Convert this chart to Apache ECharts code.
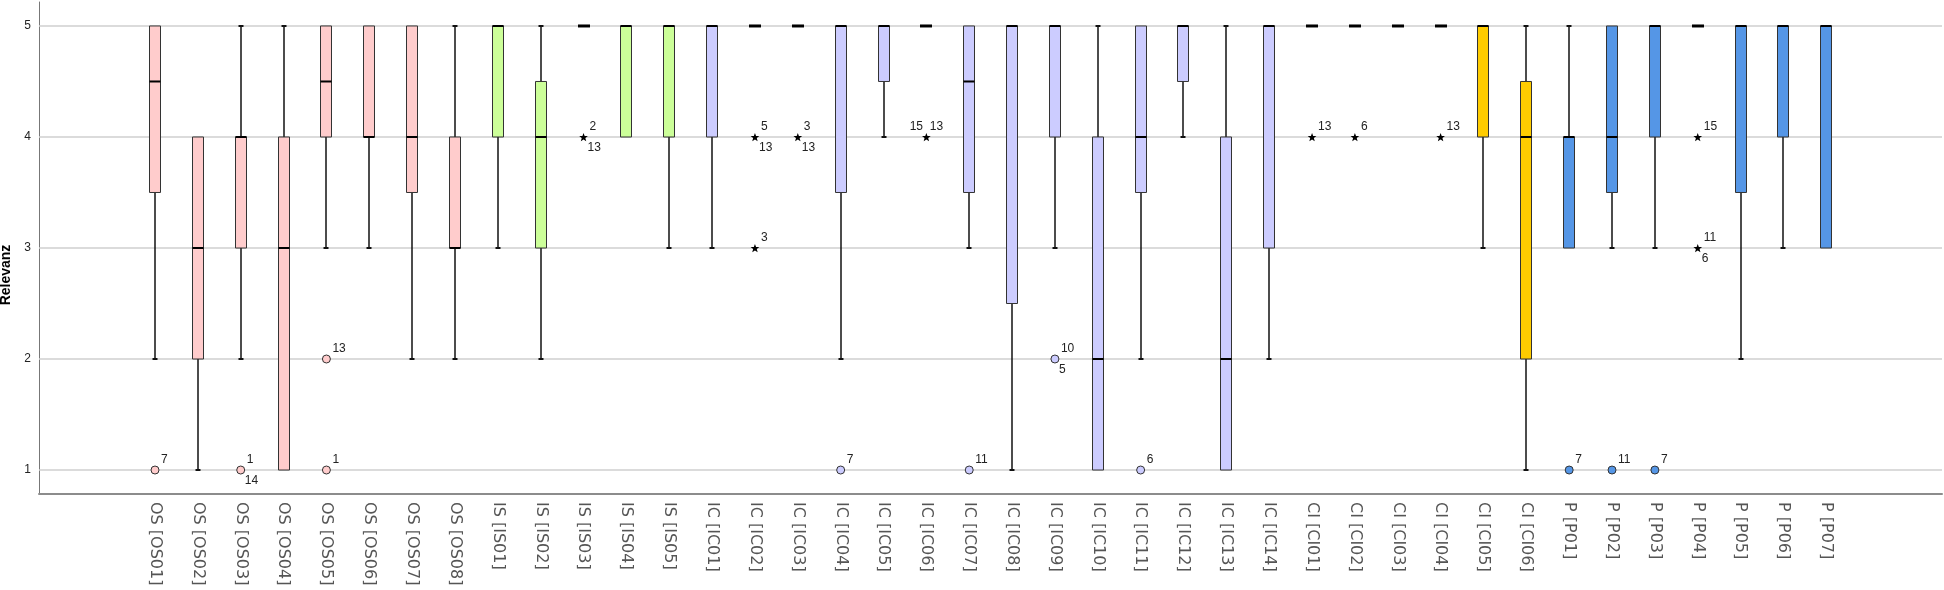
<!DOCTYPE html>
<html><head><meta charset="utf-8">
<script src="https://cdn.jsdelivr.net/npm/echarts@6/dist/echarts.min.js"></script>
<style>html,body{margin:0;padding:0;background:#fff}#c{width:1944px;height:590px}</style>
</head><body><div id="c"></div>
<script>
const categories = ['OS [OS01]','OS [OS02]','OS [OS03]','OS [OS04]','OS [OS05]','OS [OS06]','OS [OS07]','OS [OS08]',
  'IS [IS01]','IS [IS02]','IS [IS03]','IS [IS04]','IS [IS05]',
  'IC [IC01]','IC [IC02]','IC [IC03]','IC [IC04]','IC [IC05]','IC [IC06]','IC [IC07]','IC [IC08]','IC [IC09]','IC [IC10]','IC [IC11]','IC [IC12]','IC [IC13]','IC [IC14]',
  'CI [CI01]','CI [CI02]','CI [CI03]','CI [CI04]','CI [CI05]','CI [CI06]',
  'P [P01]','P [P02]','P [P03]','P [P04]','P [P05]','P [P06]','P [P07]'];
const whiskerLow  = [2,1,2,1,3,3,2,2, 3,2,5,4,3, 3,5,5,2,4,5,3,1,3,1,2,4,1,2, 5,5,5,5,3,1, 3,3,3,5,2,3,3];
const q1          = [3.5,2,3,1,4,4,3.5,3, 4,3,5,4,4, 4,5,5,3.5,4.5,5,3.5,2.5,4,1,3.5,4.5,1,3, 5,5,5,5,4,2, 3,3.5,4,5,3.5,4,3];
const median      = [4.5,3,4,3,4.5,4,4,3, 5,4,5,5,5, 5,5,5,5,5,5,4.5,5,5,2,4,5,2,5, 5,5,5,5,5,4, 4,4,5,5,5,5,5];
const q3          = [5,4,4,4,5,5,5,4, 5,4.5,5,5,5, 5,5,5,5,5,5,5,5,5,4,5,5,4,5, 5,5,5,5,5,4.5, 4,5,5,5,5,5,5];
const whiskerHigh = [5,4,5,5,5,5,5,5, 5,5,5,5,5, 5,5,5,5,5,5,5,5,5,5,5,5,5,5, 5,5,5,5,5,5, 5,5,5,5,5,5,5];

const outlierCat   = ['OS [OS01]','OS [OS03]','OS [OS05]','OS [OS05]','IS [IS03]','IC [IC02]','IC [IC02]','IC [IC03]','IC [IC04]','IC [IC06]','IC [IC07]','IC [IC09]','IC [IC11]','CI [CI01]','CI [CI02]','CI [CI04]','P [P01]','P [P02]','P [P03]','P [P04]','P [P04]'];
const outlierValue = [1,1,2,1,4,4,3,4,1,4,1,2,1,4,4,4,1,1,1,4,3];
const outlierKind  = ['o','o','o','o','*','*','*','*','o','*','o','o','o','*','*','*','o','o','o','*','*'];
const outlierUpper = ['7','1','13','1','2','5','3','3','7','15  13','11','10','6','13','6','13','7','11','7','15','11'];
const outlierLower = ['','14','','','13','13','','13','','','','5','','','','','','','','','6'];

const groupColors = {OS:'#FFCCCC', IS:'#CCFF99', IC:'#CCCCFF', CI:'#FFCC00', P:'#5596E6'};
function colorOf(i){ return groupColors[categories[i].split(' ')[0]]; }

const FONT = 'Liberation Sans, Arial, sans-serif';
const boxData = categories.map((c,i)=>[i, whiskerLow[i], q1[i], median[i], q3[i], whiskerHigh[i]]);
const outData = outlierCat.map((c,k)=>[categories.indexOf(c), outlierValue[k], k]);

function renderBox(params, api){
  const i = api.value(0);
  const x = Math.round(api.coord([i, 0])[0]);
  const y = v => api.coord([i, v])[1];
  const lo = api.value(1), a = api.value(2), m = api.value(3), b = api.value(4), hi = api.value(5);
  const hw = 6, ch = []; const col = colorOf(i);
  const ls = {stroke:'#111', lineWidth:1.5};
  if (lo < a) {
    ch.push({type:'line', shape:{x1:x,y1:y(lo),x2:x,y2:y(a)}, style:ls});
    ch.push({type:'line', shape:{x1:x-2.5,y1:y(lo),x2:x+2.5,y2:y(lo)}, style:{stroke:'#111',lineWidth:2}});
  }
  if (hi > b) {
    ch.push({type:'line', shape:{x1:x,y1:y(b),x2:x,y2:y(hi)}, style:ls});
    ch.push({type:'line', shape:{x1:x-2.5,y1:y(hi),x2:x+2.5,y2:y(hi)}, style:{stroke:'#111',lineWidth:2}});
  }
  if (b > a) {
    ch.push({type:'rect', shape:{x:x-hw+0.5, y:y(b), width:hw*2-1, height:y(a)-y(b)}, style:{fill:col, stroke:'#333', lineWidth:1}});
    ch.push({type:'line', shape:{x1:x-hw+0.5,y1:y(m),x2:x+hw-0.5,y2:y(m)}, style:{stroke:'#000',lineWidth:2}});
  } else {
    ch.push({type:'rect', shape:{x:x-6, y:y(m)-1.5, width:12, height:3}, style:{fill:'#000'}});
  }
  return {type:'group', children:ch};
}

function starPoints(cx, cy, R, r){
  const pts=[];
  for(let k=0;k<10;k++){
    const ang = -Math.PI/2 + k*Math.PI/5; const rad = k%2===0?R:r;
    pts.push([cx+rad*Math.cos(ang), cy+rad*Math.sin(ang)]);
  }
  return pts;
}

function renderOut(params, api){
  const i = api.value(0), v = api.value(1), k = api.value(2);
  const p = api.coord([i, v]);
  const ch = [];
  if (outlierKind[k] === 'o') {
    ch.push({type:'circle', shape:{cx:p[0], cy:p[1], r:4}, style:{fill:colorOf(i), stroke:'#333', lineWidth:1}});
  } else {
    ch.push({type:'polygon', shape:{points:starPoints(p[0], p[1]+0.5, 4.6, 1.9)}, style:{fill:'#000'}});
  }
  const up = outlierUpper[k], dn = outlierLower[k];
  const centered = up.indexOf(' ') >= 0;
  if (up) ch.push({type:'text', x: centered ? p[0] : p[0]+6, y: p[1]-4,
    style:{text:up, fill:'#222', font:'12px '+FONT, align: centered ? 'center' : 'left', verticalAlign:'bottom'}});
  if (dn) ch.push({type:'text', x:p[0]+4, y:p[1]+5,
    style:{text:dn, fill:'#222', font:'12px '+FONT, align:'left', verticalAlign:'top'}});
  return {type:'group', children:ch};
}

const chart = echarts.init(document.getElementById('c'), null, {renderer:'canvas'});
chart.setOption({
  animation:false,
  backgroundColor:'#fff',
  grid:{left:39, right:2, top:2, bottom:96, containLabel:false, outerBoundsMode:'none'},
  xAxis:{type:'value', min:-2.707, max:41.70,
    axisLine:{show:true, onZero:false, lineStyle:{color:'#8c8c8c', width:2}},
    axisTick:{show:false}, splitLine:{show:false},
    axisLabel:{customValues:categories.map((c,i)=>i), formatter:v=>categories[Math.round(v)]||'',
      rotate:-90, fontSize:16, color:'#555', fontFamily:'DejaVu Sans, sans-serif', margin:8}},
  yAxis:{type:'value', min:0.784, max:5.216,
    name:'Relevanz', nameLocation:'middle', nameGap:23,
    nameTextStyle:{fontWeight:'bold', fontSize:14, color:'#000', fontFamily:FONT, padding:[0,54,0,0]},
    axisLine:{show:true, onZero:false, lineStyle:{color:'#777', width:1}},
    axisTick:{show:false}, splitLine:{show:false},
    axisLabel:{customValues:[1,2,3,4,5], fontSize:12, color:'#222', fontFamily:FONT, margin:8}},
  series:[
    {type:'scatter', data:[], z:1, silent:true,
     markLine:{silent:true, symbol:'none', label:{show:false}, animation:false, z:1,
       lineStyle:{color:'#cfcfcf', width:1.5, type:'solid'},
       data:[1,2,3,4,5].map(v=>({yAxis:v}))}},
    {type:'custom', z:10, renderItem:renderBox, data:boxData, encode:{x:0, y:[1,2,3,4,5]}},
    {type:'custom', z:11, renderItem:renderOut, data:outData, encode:{x:0, y:1}}
  ]
});
</script>
</body></html>
